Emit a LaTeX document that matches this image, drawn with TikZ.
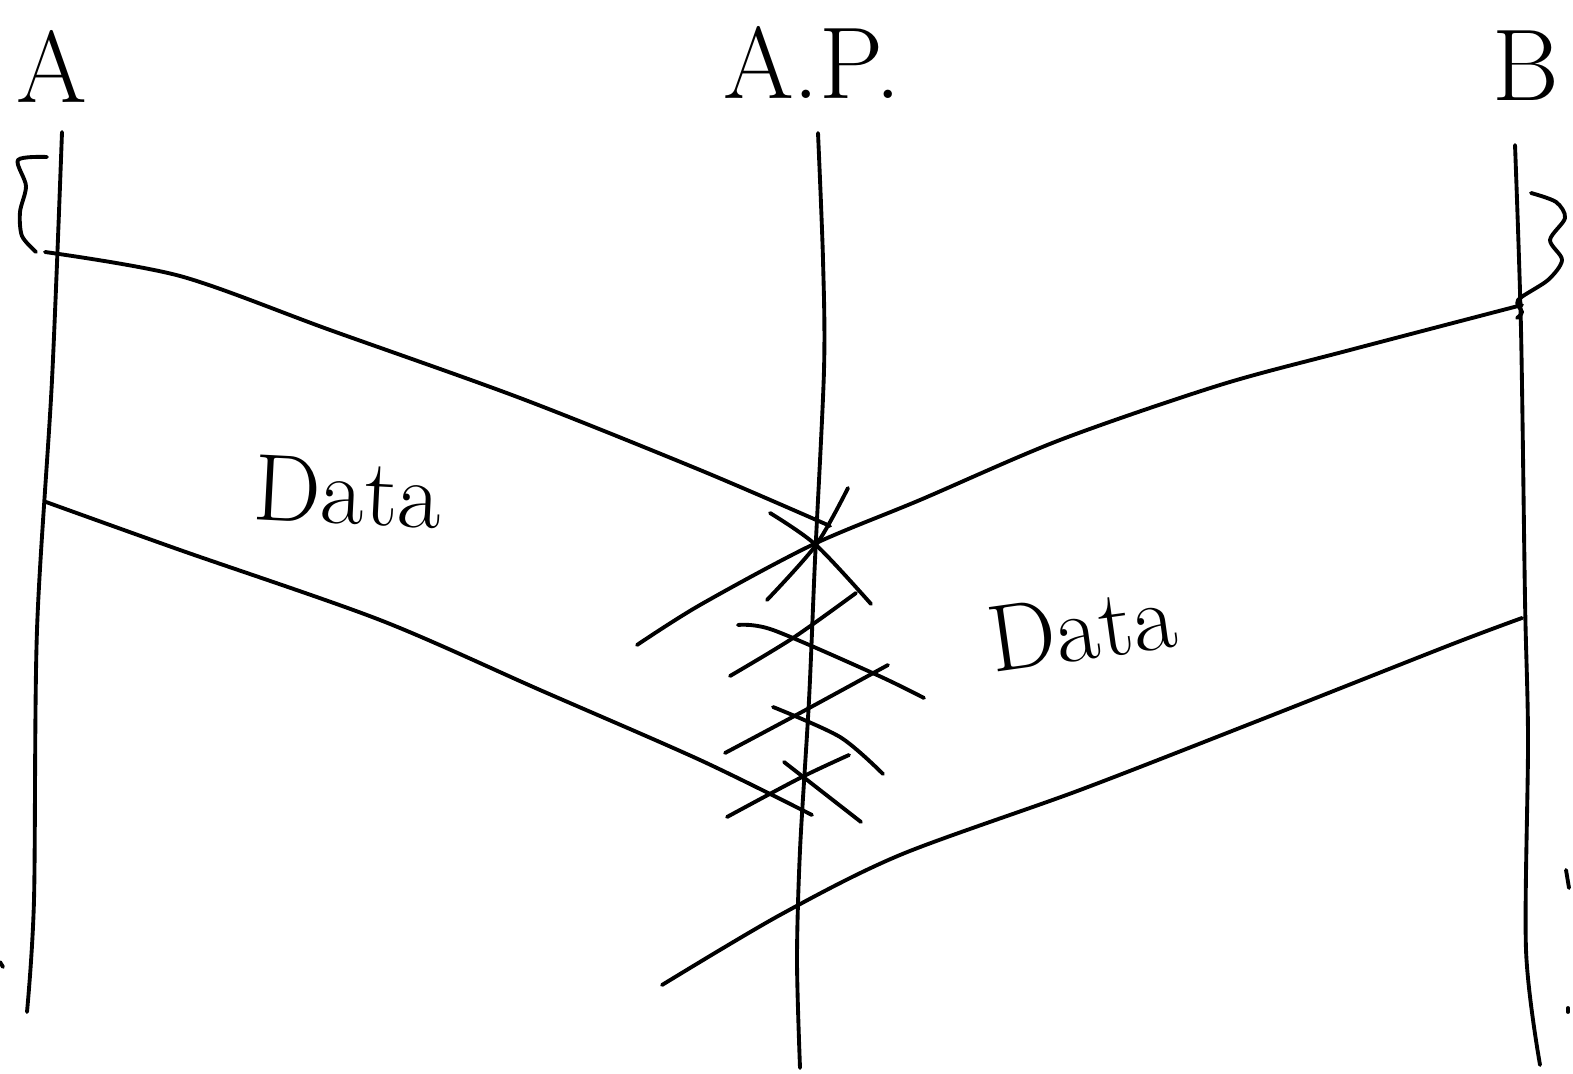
\documentclass[tikz,border=0pt]{standalone}
\usepackage{tikz}
\usetikzlibrary{calc}

\begin{document}
\begin{tikzpicture}[x=0.01cm,y=-0.01cm,
    pen/.style={line width=1.1pt,line cap=round,line join=round},
    who/.style={font=\fontsize{29}{34}\selectfont},
    msg/.style={font=\fontsize{27}{32}\selectfont}]
    \useasboundingbox (0,0) rectangle (1573,1074);
    % stations
    \node[who] (labA) at (52,66) {A};
    \node[who] (labAP) at (812,62) {A.P.};
    \node[who] (labB) at (1526,66) {B};
    \draw[pen] plot[smooth] coordinates {(62,132) (52,380) (37,630) (34,900) (27,1012)};
    \draw[pen] plot[smooth] coordinates {(818,133) (823,260) (824,370) (815,560) (809,700) (800,850) (797,960) (800,1068)};
    \draw[pen] plot[smooth] coordinates {(1515,145) (1521,330) (1525,600) (1528,740) (1526,950) (1540,1065)};
    % waiting braces
    \draw[pen] plot[smooth] coordinates {(47,157) (18,160) (26,186) (20,212) (22,236) (36,252)};
    \draw[pen] plot[smooth] coordinates {(1531,193) (1556,202) (1565,218) (1550,240) (1562,260) (1548,280) (1518,300) (1522,312) (1517,318)};
    % frames from A
    \draw[pen] plot[smooth] coordinates {(45,252) (180,276) (330,330) (520,398) (700,470) (830,526)};
    \draw[pen] plot[smooth] coordinates {(46,502) (180,550) (380,620) (540,690) (700,760) (812,815)};
    % frames from B
    \draw[pen] plot[smooth] coordinates {(1522,305) (1350,350) (1220,385) (1060,440) (920,500) (812,545) (700,605) (637,645)};
    \draw[pen] plot[smooth] coordinates {(1522,618) (1450,645) (1260,720) (1080,790) (900,855) (780,915) (662,985)};
    % collision marks
    \draw[pen] plot[smooth] coordinates {(848,488) (816,545) (767,600)};
    \draw[pen] plot[smooth] coordinates {(770,513) (816,545) (871,604)};
    \draw[pen] plot[smooth] coordinates {(856,593) (793,638) (730,676)};
    \draw[pen] plot[smooth] coordinates {(738,625) (773,630) (877,675) (924,698)};
    \draw[pen] plot[smooth] coordinates {(888,665) (800,713) (725,753)};
    \draw[pen] plot[smooth] coordinates {(773,707) (840,737) (883,774)};
    \draw[pen] plot[smooth] coordinates {(849,755) (800,778) (727,817)};
    \draw[pen] (784,762) -- (861,822);
    % labels
    \node[msg,rotate=-3] (dataA) at (348,492) {Data};
    \node[msg,rotate=8] (dataB) at (1082,628) {Data};
    % cut strokes at the edges
    \draw[pen] (0,962) -- (3,967);
    \draw[pen] (1566,870) -- (1569,888);
    \draw[pen] (1568,1008) -- (1568,1012);
\end{tikzpicture}
\end{document}
